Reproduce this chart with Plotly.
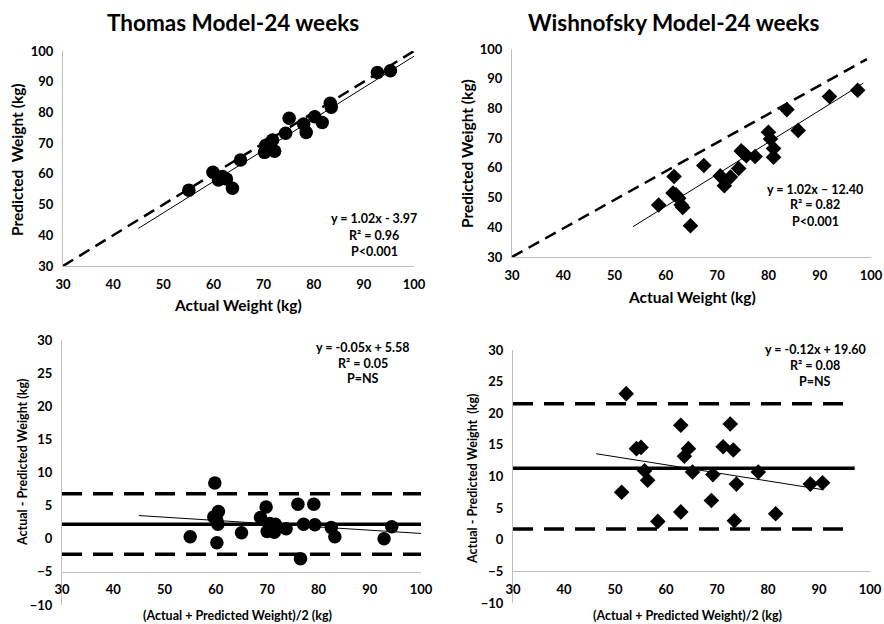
import plotly.graph_objects as go

W, H = 884, 624
FONT = "Lato"

# ---------------- Data ----------------
# Panel A: Thomas model, actual vs predicted
thomas_actual = [55.1, 59.9, 61.0, 61.8, 62.6, 63.8, 65.4, 70.2, 70.4, 71.2, 71.8, 72.2,
                 74.4, 75.1, 78.0, 78.5, 80.2, 81.7, 83.3, 83.5, 92.7, 95.3]
thomas_pred = [54.7, 60.5, 58.0, 59.1, 58.3, 55.3, 64.5, 67.0, 69.2, 69.9, 71.0, 67.4,
               73.2, 78.1, 76.2, 73.5, 78.6, 76.7, 83.0, 81.7, 93.0, 93.6]
thomas_fit_x = [45, 100]
thomas_fit_y = [42.2, 98.3]
identity_x = [30, 100]
identity_y = [30, 100]

# Panel B: Wishnofsky model, actual vs predicted
wish_actual = [58.6, 61.6, 61.4, 62.0, 62.5, 63.0, 63.3, 64.8, 67.4, 70.6, 71.4, 72.6,
               74.2, 74.7, 75.2, 75.7, 77.4, 80.0, 80.4, 81.0, 81.0, 83.6, 85.8, 91.9, 97.4]
wish_pred = [47.5, 57.1, 51.5, 50.9, 49.8, 47.5, 46.7, 40.5, 60.8, 57.3, 54.0, 56.9,
             59.8, 65.7, 64.9, 64.1, 63.8, 72.0, 69.7, 66.5, 63.6, 79.6, 72.6, 84.0, 86.1]
wish_fit_x = [53.6, 98.5]
wish_fit_y = [40.2, 88.5]
wish_ref_x = [30, 99.2]
wish_ref_y = [30, 96.6]

# Panel C: Thomas Bland-Altman
ba_t_mean = [55.0, 59.8, 59.6, 60.5, 60.2, 60.4, 60.2, 65.0, 68.7, 69.8, 70.0, 70.5,
             71.6, 71.4, 73.7, 76.0, 76.5, 77.1, 79.1, 79.3, 82.5, 83.2, 92.8, 94.3]
ba_t_diff = [0.3, 8.4, 3.3, 4.1, 2.7, 2.2, -0.6, 0.9, 3.2, 4.8, 1.1, 2.3,
             2.2, 1.0, 1.5, 5.2, -3.0, 2.2, 5.2, 2.1, 1.7, 0.3, 0.0, 1.8]
ba_t_fit_x = [45, 100]
ba_t_fit_y = [3.5, 0.8]
ba_t_bias, ba_t_upper, ba_t_lower = 2.2, 6.8, -2.35
ba_t_span = [30, 100]

# Panel D: Wishnofsky Bland-Altman
ba_w_mean = [51.3, 52.2, 54.2, 55.1, 55.8, 56.4, 58.4, 62.9, 62.9, 63.6, 64.4, 65.2,
             68.9, 69.2, 71.2, 72.6, 73.2, 73.4, 73.8, 78.1, 81.5, 88.3, 90.7]
ba_w_diff = [7.5, 23.1, 14.4, 14.6, 10.9, 9.4, 2.9, 18.1, 4.4, 13.2, 14.4, 10.7,
             6.2, 10.3, 14.7, 18.3, 14.2, 3.0, 8.8, 10.7, 4.1, 8.8, 9.0]
ba_w_fit_x = [46.3, 90.9]
ba_w_fit_y = [13.6, 7.9]
ba_w_bias, ba_w_upper, ba_w_lower = 11.3, 21.5, 1.7
ba_w_span_mean = [30, 97]
ba_w_span_loa = [30, 96]

titles = ["Thomas Model-24 weeks", "Wishnofsky Model-24 weeks"]
top_ticks = [30, 40, 50, 60, 70, 80, 90, 100]
ba_yticks = [30, 25, 20, 15, 10, 5, 0, -5, -10]
eq_texts = [
    ["y = 1.02x - 3.97", "R² = 0.96", "P<0.001"],
    ["y = 1.02x – 12.40", "R² = 0.82", "P<0.001"],
    ["y = -0.05x + 5.58", "R² = 0.05", "P=NS"],
    ["y = -0.12x + 19.60", "R² = 0.08", "P=NS"],
]

# ---------------- Helpers ----------------
def px(x):
    return x / W

def py(y):
    return 1 - y / H

fig = go.Figure()

def add(trace, n):
    trace.update(xaxis="x" if n == 1 else f"x{n}", yaxis="y" if n == 1 else f"y{n}",
                 showlegend=False, hoverinfo="skip")
    fig.add_trace(trace)

dot = dict(color="black", size=13.5, symbol="circle")
dia = dict(color="black", size=12, symbol="diamond")

# Panel 1
add(go.Scatter(x=identity_x, y=identity_y, mode="lines",
               line=dict(color="black", width=2.5, dash="12px,7px")), 1)
add(go.Scatter(x=thomas_fit_x, y=thomas_fit_y, mode="lines",
               line=dict(color="black", width=1)), 1)
add(go.Scatter(x=thomas_actual, y=thomas_pred, mode="markers", marker=dot), 1)

# Panel 2
add(go.Scatter(x=wish_ref_x, y=wish_ref_y, mode="lines",
               line=dict(color="black", width=2.5, dash="12px,7px")), 2)
add(go.Scatter(x=wish_fit_x, y=wish_fit_y, mode="lines",
               line=dict(color="black", width=1)), 2)
add(go.Scatter(x=wish_actual, y=wish_pred, mode="markers", marker=dia), 2)

# Panel 3
for v in (ba_t_upper, ba_t_lower):
    add(go.Scatter(x=ba_t_span, y=[v, v], mode="lines",
                   line=dict(color="black", width=3.5, dash="20px,11px")), 3)
add(go.Scatter(x=ba_t_span, y=[ba_t_bias, ba_t_bias], mode="lines",
               line=dict(color="black", width=3.5)), 3)
add(go.Scatter(x=ba_t_fit_x, y=ba_t_fit_y, mode="lines",
               line=dict(color="black", width=1)), 3)
add(go.Scatter(x=ba_t_mean, y=ba_t_diff, mode="markers", marker=dot), 3)

# Panel 4
for v in (ba_w_upper, ba_w_lower):
    add(go.Scatter(x=ba_w_span_loa, y=[v, v], mode="lines",
                   line=dict(color="black", width=3.5, dash="20px,11px")), 4)
add(go.Scatter(x=ba_w_span_mean, y=[ba_w_bias, ba_w_bias], mode="lines",
               line=dict(color="black", width=3.5)), 4)
add(go.Scatter(x=ba_w_fit_x, y=ba_w_fit_y, mode="lines",
               line=dict(color="black", width=1)), 4)
add(go.Scatter(x=ba_w_mean, y=ba_w_diff, mode="markers", marker=dia), 4)

# ---------------- Axes ----------------
tickfont = dict(family=FONT, size=13, color="black", weight="bold")
common = dict(showgrid=False, zeroline=False, showline=True, linecolor="#bfbfbf",
              linewidth=1, ticks="outside", tickcolor="rgba(0,0,0,0)", ticklen=6,
              tickfont=tickfont, automargin=False, fixedrange=True)

# pixel boxes: (left, right, top, bottom)
boxes = {
    1: (63, 414, 51, 266),
    2: (512, 871, 49, 257),
    3: (62, 421, 340, 605),
    4: (513, 870, 350, 603),
}

layout = {}
for n, (l, r, t, b) in boxes.items():
    xs = "xaxis" if n == 1 else f"xaxis{n}"
    ys = "yaxis" if n == 1 else f"yaxis{n}"
    xa = "x" if n == 1 else f"x{n}"
    ya = "y" if n == 1 else f"y{n}"
    if n <= 2:
        layout[xs] = dict(common, domain=[px(l), px(r)], range=[30, 100], tickvals=top_ticks,
                          anchor=ya)
        layout[ys] = dict(common, domain=[py(b), py(t)], range=[30, 100], tickvals=top_ticks,
                          anchor=xa)
    else:
        y0, y1 = py(b), py(t)
        pos = y0 + (y1 - y0) * (-5 - (-10)) / 40.0
        layout[xs] = dict(common, domain=[px(l), px(r)], range=[30, 100], tickvals=top_ticks,
                          anchor="free", position=pos)
        layout[ys] = dict(common, domain=[y0, y1], range=[-10, 30], tickvals=ba_yticks,
                          anchor=xa)

fig.update_layout(**layout)

# ---------------- Text ----------------
ann = []
def text(x, y, s, size, angle=0):
    ann.append(dict(x=px(x), y=py(y), xref="paper", yref="paper", text=s, showarrow=False,
                    textangle=angle, xanchor="center", yanchor="middle",
                    font=dict(family=FONT, size=size, color="black", weight="bold")))

text(233, 23, titles[0], 22.5)
text(674, 23, titles[1], 22.5)

text(238, 305, "Actual Weight (kg)", 15.5)
text(17, 160, "Predicted  Weight (kg)", 15.5, -90)
text(692, 297, "Actual Weight (kg)", 15.5)
text(467, 154, "Predicted Weight (kg)", 15.5, -90)
text(237, 615, "(Actual + Predicted Weight)/2 (kg)", 12.5)
text(22, 463, "Actual - Predicted Weight (kg)", 12.5, -90)
text(687, 615, "(Actual + Predicted Weight)/2 (kg)", 12.5)
text(472, 479, "Actual - Predicted Weight  (kg)", 12.5, -90)

eq_pos = [(374, 219), (815, 189), (363, 347), (815, 349)]
for (cx, cy), lines in zip(eq_pos, eq_texts):
    for i, s in enumerate(lines):
        text(cx, cy + i * 16, s, 12.5)

fig.update_layout(annotations=ann, width=W, height=H, margin=dict(l=0, r=0, t=0, b=0),
                  paper_bgcolor="white", plot_bgcolor="white", showlegend=False)

fig.write_html("out.html", config={"displayModeBar": False, "staticPlot": True},
               post_script="document.body.style.margin='0';document.body.style.overflow='hidden';")
